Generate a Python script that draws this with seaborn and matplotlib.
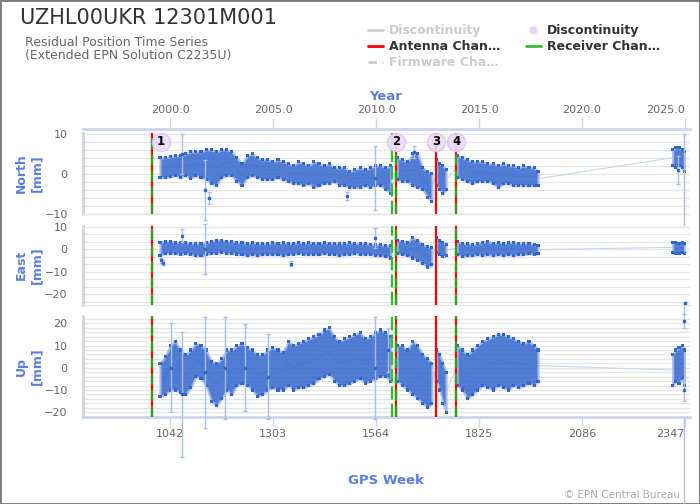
import numpy as np
import pandas as pd
import matplotlib
matplotlib.use('Agg')
import matplotlib.pyplot as plt
from matplotlib.lines import Line2D
from matplotlib.ticker import MultipleLocator, FixedLocator, FormatStrFormatter
import seaborn as sns

# ---- data (GPS weeks, mm) ----
# segments between gaps in the series
SEGMENT = ['A'] * 46 + ['B'] * 8 + ['C'] * 4 + ['D'] * 17 + ['E'] * 5
WEEKS = [1017, 1030, 1043, 1056, 1069, 1082, 1095, 1108, 1121, 1134, 1147, 1160,
         1173, 1186, 1199, 1212, 1225, 1238, 1251, 1264, 1277, 1290, 1303, 1316,
         1329, 1342, 1355, 1368, 1381, 1394, 1407, 1420, 1433, 1446, 1459, 1472,
         1485, 1498, 1511, 1524, 1537, 1550, 1563, 1576, 1589, 1602,
         1618, 1631, 1644, 1657, 1670, 1683, 1696, 1706,
         1718, 1726, 1734, 1742,
         1770, 1783, 1796, 1809, 1822, 1835, 1848, 1861, 1874, 1887, 1900, 1913,
         1926, 1939, 1952, 1965, 1975,
         2316, 2324, 2332, 2340, 2346]

# lower / upper envelope of the point cloud
NORTH_LO = [-1.0, -1.0, -0.8, -0.5, -1.0, -0.5, -1.2, -0.5, -1.0, -1.5, -2.5, -3.0,
            -1.0, -0.5, -0.5, -2.0, -3.0, -1.0, -0.5, -1.0, -1.5, -1.5, -1.5, -1.0,
            -1.5, -2.0, -2.5, -2.5, -3.0, -2.5, -3.5, -3.0, -2.5, -2.5, -2.0, -3.0,
            -3.0, -3.5, -3.5, -3.5, -3.0, -3.5, -3.0, -3.0, -4.0, -5.0,
            -1.5, -2.0, -2.0, -3.0, -3.5, -4.0, -6.0, -7.0,
            -3.0, -4.0, -5.0, -4.0,
            -1.0, -1.5, -2.0, -2.5, -2.0, -2.0, -2.0, -2.5, -3.5, -2.5, -2.5, -3.0,
            -3.0, -3.0, -3.0, -3.0, -3.0,
            2.0, 1.5, 2.0, 1.5, 0.5]
NORTH_HI = [4.0, 4.0, 4.2, 4.5, 4.5, 5.0, 5.5, 5.5, 5.5, 6.0, 6.0, 5.5,
            6.0, 6.0, 5.5, 4.0, 2.5, 4.5, 5.0, 4.0, 3.5, 3.5, 3.0, 3.5,
            3.0, 2.5, 2.0, 3.0, 2.5, 2.0, 3.0, 2.5, 2.0, 2.5, 1.5, 1.5,
            1.5, 0.5, 1.0, 1.5, 1.0, 1.5, 2.0, 2.0, 1.5, 2.0,
            4.0, 3.5, 3.0, 5.0, 5.0, 1.5, 0.5, 0.0,
            3.5, 2.5, 2.0, 1.0,
            4.5, 4.0, 3.5, 3.0, 3.0, 3.0, 2.5, 2.5, 2.0, 2.5, 2.0, 2.0,
            1.5, 2.0, 1.5, 1.5, 0.5,
            6.0, 6.5, 6.5, 6.0, 5.5]
EAST_LO = [-3.0, -2.0, -2.0, -2.0, -2.5, -2.0, -2.5, -3.0, -3.0, -2.5, -2.0, -2.0,
           -1.5, -2.0, -2.0, -2.5, -2.5, -3.0, -2.5, -3.0, -2.5, -2.5, -2.5, -2.5,
           -3.0, -2.5, -2.5, -2.0, -2.5, -2.5, -2.5, -2.5, -2.0, -2.5, -2.5, -3.0,
           -2.5, -2.5, -2.0, -2.5, -2.5, -2.5, -3.0, -3.0, -3.5, -4.0,
           -2.0, -2.5, -3.0, -4.0, -5.0, -6.5, -8.0, -7.0,
           -1.5, -2.5, -3.5, -3.0,
           -2.5, -3.5, -3.0, -3.0, -2.5, -3.0, -2.5, -3.0, -2.5, -3.0, -2.5, -3.0,
           -2.5, -2.5, -2.0, -2.5, -2.0,
           -1.5, -2.0, -2.0, -1.5, -2.0]
EAST_HI = [3.0, 3.5, 3.5, 3.0, 3.0, 3.0, 2.5, 2.5, 2.5, 3.0, 3.5, 4.0,
           4.0, 3.5, 3.5, 3.0, 3.0, 2.5, 3.0, 2.5, 2.5, 2.5, 3.0, 2.5,
           3.0, 2.5, 2.5, 3.0, 2.5, 3.0, 2.5, 2.5, 3.0, 2.5, 2.5, 2.5,
           2.5, 3.0, 2.5, 2.5, 2.5, 2.0, 2.0, 2.0, 1.5, 1.5,
           4.0, 3.5, 3.0, 5.0, 4.0, 2.0, 1.0, 0.5,
           5.0, 4.0, 3.0, 2.0,
           3.5, 2.5, 2.5, 2.0, 2.5, 3.0, 3.5, 2.5, 3.0, 2.5, 3.0, 3.0,
           2.5, 2.5, 2.5, 2.0, 1.5,
           3.0, 3.0, 2.5, 3.0, 2.5]
UP_LO = [-13, -12, -10, -10, -11, -12, -9, -4, -5, -8, -15, -17,
         -14, -10, -12, -8, -7, -8, -10, -13, -12, -10, -9, -10,
         -10, -8, -10, -9, -9, -8, -7, -5, -4, -3, -6, -8,
         -8, -7, -6, -5, -7, -6, -5, -4, -4, -6,
         -6, -8, -10, -12, -14, -16, -18, -16,
         -6, -10, -16, -20,
         -8, -10, -14, -12, -10, -8, -9, -10, -8, -9, -10, -8,
         -9, -8, -7, -8, -6,
         -8, -6, -7, -5, -8]
UP_HI = [2, 5, 10, 12, 8, 6, 8, 11, 10, 8, 3, 2,
         4, 8, 8, 10, 11, 9, 8, 6, 6, 8, 9, 8,
         7, 12, 10, 11, 12, 13, 14, 15, 17, 18, 14, 12,
         13, 14, 15, 16, 13, 14, 16, 17, 16, 14,
         10, 10, 8, 12, 10, 6, 4, 2,
         8, 6, 2, -2,
         10, 8, 6, 8, 10, 12, 13, 14, 15, 15, 14, 13,
         12, 11, 12, 10, 8,
         6, 8, 9, 10, 8]

# single epochs with long error bars
NORTH_OUT_WEEK = [1072, 1131, 1140, 1490, 1562, 1660, 2330, 2346]
NORTH_OUT_VAL = [5.0, -4.0, -6.0, -5.5, -1.0, 5.5, 1.0, -45.0]
NORTH_OUT_ERR = [5.0, 7.5, 1.5, 1.0, 8.0, 1.5, 3.5, 55.0]
EAST_OUT_WEEK = [1020, 1025, 1072, 1131, 1350, 1562, 2347]
EAST_OUT_VAL = [-5.0, -6.0, 6.0, 0.0, -6.5, 5.0, -24.0]
EAST_OUT_ERR = [1.0, 1.0, 3.0, 11.0, 1.0, 4.5, 0.5]
UP_OUT_WEEK = [1046, 1072, 1132, 1181, 1232, 1291, 1561, 1596, 2344, 2346]
UP_OUT_VAL = [0, -12, -2, 0, 0, -4, 0, 8, -10, 21]
UP_OUT_ERR = [20, 28, 25, 23, 19.5, 19, 23, 10, 5, 3]

# station events
ANTENNA_WEEKS = [998, 1615, 1716, 1768]
RECEIVER_WEEKS = [998, 1615, 1768]
RECEIVER_DASHED_WEEKS = [1606]
DISC_WEEKS = [1020, 1616, 1716, 1768]
DISC_LABELS = ['1', '2', '3', '4']

GPS_TICKS = [1042, 1303, 1564, 1825, 2086, 2347]
YEAR_TICKS = [2000, 2005, 2010, 2015, 2020, 2025]

BLUE = '#3366cc'
ERR_BLUE = '#a9bdea'
LABEL_BLUE = '#5a7fdc'
AXIS_LINE = '#ccd6eb'
GRID = '#e6e6e6'
RED = '#ff0000'
GREEN = '#2ea01e'


def week_to_year(w):
    return 2000 + (np.asarray(w, dtype=float) - 1042.86) / 52.1775


def year_to_week(y):
    return 1042.86 + (np.asarray(y, dtype=float) - 2000) * 52.1775


df = pd.DataFrame({'week': WEEKS, 'segment': SEGMENT,
                   'north_lo': NORTH_LO, 'north_hi': NORTH_HI,
                   'east_lo': EAST_LO, 'east_hi': EAST_HI,
                   'up_lo': UP_LO, 'up_hi': UP_HI})

sns.set_theme(style='white')
plt.rcParams['font.family'] = ['DejaVu Sans']

fig = plt.figure(figsize=(7, 5.04), dpi=100)
fig.patch.set_edgecolor('#808080')
fig.patch.set_linewidth(2)

L, W = 83 / 700, 607 / 700
ax_n = fig.add_axes([L, 0.5754, W, 0.1607])
ax_e = fig.add_axes([L, 0.3948, W, 0.1574])
ax_u = fig.add_axes([L, 0.1732, W, 0.1998])

panels = [
    (ax_n, 'north', 'North\n[mm]', (-10.1, 10.2), [-10, 0, 10], 2,
     NORTH_OUT_WEEK, NORTH_OUT_VAL, NORTH_OUT_ERR),
    (ax_e, 'east', 'East\n[mm]', (-24.9, 10.4), [-20, -10, 0, 10], 10 / 3,
     EAST_OUT_WEEK, EAST_OUT_VAL, EAST_OUT_ERR),
    (ax_u, 'up', 'Up\n[mm]', (-22.0, 23.3), [-20, -10, 0, 10, 20], 2,
     UP_OUT_WEEK, UP_OUT_VAL, UP_OUT_ERR),
]

for ax, key, label, ylim, yticks, minor, ow, ov, oe in panels:
    lo, hi = key + '_lo', key + '_hi'
    mid = (df[lo] + df[hi]) / 2

    # thin line joining consecutive epochs (visible across gaps)
    sns.lineplot(x=df['week'], y=mid, ax=ax, sort=False, estimator=None,
                 color='#c9d5f0', lw=0.8, zorder=1)

    # point cloud: light error-bar fringe + dense core
    for seg, g in df.groupby('segment'):
        ax.fill_between(g['week'], g[lo], g[hi], facecolor=BLUE, alpha=0.85,
                        edgecolor=ERR_BLUE, lw=1.6, zorder=2)

    edges = pd.concat([df[['week', lo]].rename(columns={lo: 'v'}),
                       df[['week', hi]].rename(columns={hi: 'v'})])
    sns.scatterplot(data=edges, x='week', y='v', ax=ax, marker='s', s=5,
                    color=BLUE, edgecolor='none', legend=False, zorder=3)

    cont = ax.errorbar(ow, ov, yerr=oe, fmt='s', ms=2, color=BLUE,
                       ecolor=ERR_BLUE, elinewidth=1, capsize=1.5, zorder=3)
    for a in [cont[0], *cont[1], *cont[2]]:
        a.set_clip_on(False)

    # station events
    for w in ANTENNA_WEEKS:
        ax.axvline(w, color=RED, lw=1.6, zorder=4)
    for w in RECEIVER_WEEKS:
        ax.axvline(w, color=GREEN, lw=1.6, linestyle=(0, (5, 2.3)), zorder=4)
    for w in RECEIVER_DASHED_WEEKS:
        ax.axvline(w, color='#33bb33', lw=1.6, linestyle=(0, (6, 1.8)), zorder=4)

    ax.set_xlim(822, 2360)
    ax.set_ylim(*ylim)
    ax.yaxis.set_major_locator(FixedLocator(yticks))
    ax.yaxis.set_minor_locator(MultipleLocator(minor))
    ax.grid(True, which='both', axis='y', color=GRID, lw=0.9)
    ax.set_axisbelow(True)
    ax.tick_params(axis='y', length=0, pad=11, labelsize=8, labelcolor='#666666')
    ax.set_ylabel(label, color=LABEL_BLUE, fontweight='bold', fontsize=9)
    ax.yaxis.set_label_coords(-0.066, 0.5)
    ax.set_xlabel('')
    for s in ['top', 'right']:
        ax.spines[s].set_visible(False)
    ax.spines['left'].set_color(AXIS_LINE)
    ax.spines['left'].set_linewidth(2)
    ax.spines['bottom'].set_color(GRID)
    ax.spines['bottom'].set_linewidth(1)
    ax.set_xticks(GPS_TICKS)
    if ax is ax_u:
        ax.spines['bottom'].set_color(AXIS_LINE)
        ax.spines['bottom'].set_linewidth(2)
        ax.tick_params(axis='x', bottom=True, length=7, width=1, color=AXIS_LINE,
                       labelsize=8, labelcolor='#666666', pad=2)
        ax.get_xticklabels()[-1].set_horizontalalignment('right')
    else:
        ax.tick_params(axis='x', bottom=False, labelbottom=False)

# discontinuity markers
ax_n.scatter(DISC_WEEKS, [8] * len(DISC_WEEKS), s=170, color='#ecdcfb',
             edgecolor='#dcc6f3', alpha=0.9, zorder=6, clip_on=False)
for w, t in zip(DISC_WEEKS, DISC_LABELS):
    ax_n.text(w, 8, t, ha='center', va='center', fontsize=8.5,
              fontweight='bold', color='black', zorder=7)

# year axis on top
sec = ax_n.secondary_xaxis('top', functions=(week_to_year, year_to_week))
sec.set_xticks(YEAR_TICKS)
sec.xaxis.set_major_formatter(FormatStrFormatter('%.1f'))
sec.spines['top'].set_color(AXIS_LINE)
sec.spines['top'].set_linewidth(2)
sec.spines['top'].set_position(('outward', 3))
sec.tick_params(axis='x', top=True, length=8, width=1, color=AXIS_LINE,
                labelsize=8, labelcolor='#666666', pad=2)
sec.get_xticklabels()[-1].set_horizontalalignment('right')

fig.text(386 / 700, 1 - 96 / 504, 'Year', ha='center', va='center',
         color=LABEL_BLUE, fontweight='bold', fontsize=9.5)
fig.text(386 / 700, 1 - 480 / 504, 'GPS Week', ha='center', va='center',
         color=LABEL_BLUE, fontweight='bold', fontsize=9.5)

fig.text(20 / 700, 1 - 18 / 504, 'UZHL00UKR 12301M001', ha='left', va='center',
         fontsize=15, color='#333333')
fig.text(25 / 700, 1 - 42 / 504, 'Residual Position Time Series', ha='left',
         va='center', fontsize=9, color='#666666')
fig.text(25 / 700, 1 - 56 / 504, '(Extended EPN Solution C2235U)', ha='left',
         va='center', fontsize=9, color='#666666')
fig.text(680 / 700, 1 - 495 / 504, '\u00a9 EPN Central Bureau', ha='right',
         va='center', fontsize=7.5, color='#aaaaaa')

handles = [
    Line2D([], [], color='#cccccc', lw=2),
    Line2D([], [], color=RED, lw=2),
    Line2D([], [], color='#cccccc', lw=2, linestyle=(0, (3, 2))),
    Line2D([], [], color='#e6d4fa', marker='o', ms=5, lw=0),
    Line2D([], [], color='#33bb33', lw=2),
]
labels = ['Discontinuity', 'Antenna Chan\u2026', 'Firmware Cha\u2026',
          'Discontinuity', 'Receiver Chan\u2026']
leg = fig.legend(handles, labels, loc='upper left',
                 bbox_to_anchor=(368 / 700, 1 - 24 / 504), ncol=2, frameon=False,
                 prop={'weight': 'bold', 'size': 9}, handlelength=1.2,
                 handletextpad=0.5, columnspacing=2.0, labelspacing=0.25,
                 borderpad=0, borderaxespad=0)
for txt, c in zip(leg.get_texts(), ['#cccccc', '#333333', '#cccccc',
                                     '#333333', '#333333']):
    txt.set_color(c)

fig.savefig('out.png', dpi=100, facecolor='white',
            edgecolor=fig.get_edgecolor())
